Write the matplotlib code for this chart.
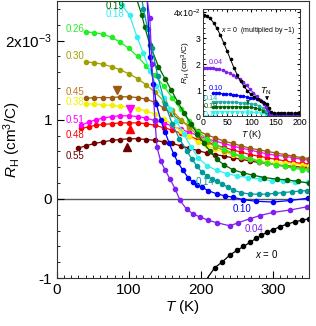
import matplotlib
matplotlib.use("Agg")
import matplotlib.pyplot as plt
from matplotlib.ticker import MultipleLocator, FixedLocator, FixedFormatter

plt.rcParams["font.family"] = ["Liberation Sans", "DejaVu Sans"]
plt.rcParams["mathtext.fontset"] = "custom"
plt.rcParams["mathtext.rm"] = "Liberation Sans"
plt.rcParams["mathtext.it"] = "Liberation Sans:italic"

# R_H values in units of 1e-3 cm^3/C, T in K (main panel)
T_055 = [29, 40, 52, 64, 76, 88, 100, 112, 124, 136, 148, 160, 172, 184, 196, 208,
         220, 232, 244, 256, 268, 280, 292, 304, 316, 328, 340, 350]
R_055 = [0.64, 0.67, 0.70, 0.72, 0.74, 0.75, 0.76, 0.76, 0.75, 0.74, 0.72, 0.70, 0.67,
         0.64, 0.61, 0.58, 0.56, 0.54, 0.52, 0.50, 0.48, 0.46, 0.45, 0.43, 0.42, 0.41,
         0.40, 0.40]
T_051 = [34, 44, 54, 64, 76, 88, 100, 112, 124, 136, 148, 160, 172, 184, 196, 208,
         220, 232, 244, 256, 268, 280, 292, 304, 316, 328, 340, 350]
R_051 = [0.93, 0.97, 1.00, 1.02, 1.04, 1.05, 1.05, 1.04, 1.02, 0.99, 0.96, 0.92, 0.88,
         0.84, 0.80, 0.76, 0.73, 0.70, 0.67, 0.64, 0.62, 0.59, 0.57, 0.55, 0.54, 0.52,
         0.50, 0.49]
T_048 = T_051
R_048 = [0.89, 0.91, 0.93, 0.94, 0.95, 0.96, 0.96, 0.96, 0.95, 0.93, 0.90, 0.87, 0.83,
         0.79, 0.75, 0.72, 0.68, 0.65, 0.62, 0.59, 0.56, 0.54, 0.52, 0.50, 0.48, 0.46,
         0.45, 0.44]
T_045 = [40, 52, 64, 76, 88, 100, 112, 124, 136, 148, 160, 172, 184, 196, 208, 220,
         232, 244, 256, 268, 280, 292, 304, 316, 328, 340, 350]
R_045 = [1.27, 1.28, 1.28, 1.28, 1.29, 1.29, 1.28, 1.26, 1.22, 1.15, 1.07, 0.99, 0.92,
         0.86, 0.81, 0.77, 0.73, 0.70, 0.67, 0.64, 0.62, 0.60, 0.58, 0.56, 0.54, 0.52,
         0.51]
T_038 = T_045
R_038 = [1.20, 1.20, 1.19, 1.18, 1.17, 1.16, 1.14, 1.11, 1.07, 1.01, 0.94, 0.86, 0.79,
         0.72, 0.67, 0.63, 0.59, 0.56, 0.53, 0.51, 0.49, 0.47, 0.46, 0.45, 0.44, 0.43,
         0.42]
T_030 = T_045
R_030 = [1.73, 1.72, 1.70, 1.67, 1.63, 1.58, 1.52, 1.44, 1.35, 1.24, 1.12, 1.00, 0.90,
         0.80, 0.72, 0.66, 0.61, 0.57, 0.53, 0.50, 0.47, 0.45, 0.43, 0.41, 0.40, 0.39,
         0.38]
T_026 = T_045
R_026 = [2.11, 2.10, 2.08, 2.04, 1.98, 1.90, 1.80, 1.68, 1.56, 1.43, 1.28, 1.13, 0.98,
         0.85, 0.76, 0.69, 0.63, 0.58, 0.54, 0.51, 0.48, 0.45, 0.43, 0.41, 0.39, 0.37,
         0.36]
T_019 = [108, 118, 122, 129, 141, 150, 159, 168, 177, 186, 195, 204, 213, 222, 232,
         244, 258, 272, 288, 305, 320, 335, 350]
R_019 = [2.6, 2.32, 2.17, 1.95, 1.67, 1.52, 1.37, 1.22, 1.08, 0.95, 0.82, 0.70, 0.60,
         0.50, 0.43, 0.37, 0.33, 0.30, 0.27, 0.25, 0.24, 0.22, 0.20]
T_018 = [78, 90, 101, 111, 120, 129, 138, 148, 157, 166, 176, 186, 196, 208, 222, 236,
         250, 265, 282, 298, 314, 330, 348]
R_018 = [2.6, 2.45, 2.32, 2.05, 1.84, 1.62, 1.43, 1.27, 1.14, 0.98, 0.82, 0.66, 0.52,
         0.42, 0.36, 0.32, 0.29, 0.27, 0.25, 0.23, 0.22, 0.21, 0.21]
T_014 = [117, 120, 126, 132, 140, 150, 160, 170, 180, 187, 194, 201, 208, 215, 222,
         229, 237, 245, 256, 268, 280, 291, 303, 314, 326, 338, 347]
R_014 = [2.6, 2.40, 2.15, 1.90, 1.55, 1.20, 0.95, 0.76, 0.61, 0.51, 0.42, 0.34, 0.29,
         0.25, 0.22, 0.19, 0.15, 0.11, 0.08, 0.06, 0.06, 0.06, 0.07, 0.08, 0.09, 0.10,
         0.105]
T_010 = [125, 129, 134, 138, 144, 150, 156, 162, 168, 175, 182, 189, 194, 201, 210,
         222, 233, 245, 259, 277, 300, 324, 349]
R_010 = [2.6, 1.79, 1.45, 1.20, 1.00, 0.85, 0.70, 0.57, 0.46, 0.36, 0.27, 0.21, 0.18,
         0.15, 0.105, 0.063, 0.04, 0.02, -0.01, -0.03, -0.04, -0.02, 0.01]
T_004 = [124, 129, 132, 136, 139, 144, 150, 157, 164, 171, 180, 189, 199, 210, 222,
         240, 252, 268, 282, 300, 324, 347]
R_004 = [2.6, 2.28, 1.70, 1.00, 0.65, 0.48, 0.37, 0.25, 0.13, -0.02, -0.13, -0.19,
         -0.23, -0.27, -0.30, -0.34, -0.30, -0.25, -0.21, -0.17, -0.14, -0.10]
T_000 = [205, 219, 229, 240, 250, 259, 268, 276, 284, 292, 300, 310, 319, 330, 340, 350]
R_000 = [-1.05, -0.87, -0.80, -0.71, -0.65, -0.60, -0.55, -0.50, -0.46, -0.42, -0.39,
         -0.35, -0.32, -0.29, -0.27, -0.25]

# triangle markers (T, R) on the flat curves
TRI_DOWN = [(83, 1.37, "#9A5A10"), (101, 1.13, "#FF00FF")]
TRI_UP = [(101, 0.88, "#FF0000"), (97, 0.66, "#700000")]

# inset: R_H in units of 1e-2 cm^3/C (x = 0 multiplied by -1)
Ti_000 = [2, 8, 15, 22, 29, 36, 43, 50, 57, 64, 71, 78, 85, 92, 99, 106, 113, 120, 127,
          132, 136, 140, 147, 154, 161, 168, 175, 182, 189, 196, 200]
Ri_000 = [3.90, 3.86, 3.76, 3.60, 3.38, 3.12, 2.82, 2.50, 2.18, 1.86, 1.58, 1.34, 1.14,
          0.97, 0.84, 0.73, 0.64, 0.58, 0.52, 0.48, 0.30, 0.14, 0.12, 0.12, 0.11, 0.11,
          0.11, 0.11, 0.11, 0.11, 0.11]
Ti_004 = [3, 8, 14, 20, 27, 34, 41, 48, 55, 62, 69, 76, 83, 90, 97, 104, 111, 118, 125,
          130, 134, 138, 145, 155, 165, 175, 185, 195, 200]
Ri_004 = [1.85, 1.86, 1.86, 1.85, 1.83, 1.80, 1.76, 1.71, 1.65, 1.58, 1.50, 1.41, 1.31,
          1.18, 1.04, 0.90, 0.76, 0.62, 0.47, 0.36, 0.22, 0.06, 0.04, 0.04, 0.04, 0.04,
          0.04, 0.04, 0.04]
Ti_010 = [20, 27, 34, 41, 48, 55, 62, 69, 76, 83, 90, 97, 104, 111, 118, 124, 129, 133,
          137, 141, 148, 158, 168, 178, 188, 198]
Ri_010 = [0.87, 0.87, 0.87, 0.86, 0.85, 0.84, 0.82, 0.80, 0.78, 0.76, 0.74, 0.71, 0.68,
          0.65, 0.61, 0.55, 0.45, 0.30, 0.12, 0.05, 0.04, 0.04, 0.03, 0.03, 0.03, 0.03]
Ti_014 = [20, 28, 36, 44, 52, 60, 68, 76, 84, 92, 100, 108, 116, 124, 130, 135, 140,
          150, 160, 170, 180, 190, 200]
Ri_014 = [0.55, 0.55, 0.55, 0.55, 0.54, 0.54, 0.53, 0.52, 0.51, 0.50, 0.48, 0.45, 0.40,
          0.31, 0.20, 0.10, 0.05, 0.04, 0.03, 0.03, 0.03, 0.03, 0.03]
Ti_019 = Ti_014
Ri_019 = [0.35, 0.36, 0.36, 0.36, 0.36, 0.36, 0.36, 0.36, 0.35, 0.35, 0.34, 0.32, 0.28,
          0.21, 0.14, 0.07, 0.03, 0.02, 0.02, 0.02, 0.02, 0.02, 0.02]
Ti_018 = [20, 30, 40, 50, 60, 70, 80, 90, 100, 110, 120, 130, 140, 150, 160, 170, 180,
          190, 200]
Ri_018 = [0.17, 0.17, 0.17, 0.17, 0.17, 0.17, 0.17, 0.16, 0.15, 0.14, 0.12, 0.08, 0.03,
          0.02, 0.02, 0.02, 0.02, 0.02, 0.02]

YTICKS = [-1, 0, 1, 2]
YTICKLABELS = ["-1", "0", "1", r"2x10$^{-3}$"]

main_series = [
    (T_055, R_055, "#700000", "0.55", (12.5, 0.54)),
    (T_048, R_048, "#FF0000", "0.48", (12.5, 0.81)),
    (T_051, R_051, "#FF00FF", "0.51", (12.5, 1.00)),
    (T_038, R_038, "#F2F200", "0.38", (12.5, 1.22)),
    (T_045, R_045, "#9A5A10", "0.45", (12.5, 1.35)),
    (T_030, R_030, "#A0A000", "0.30", (12.5, 1.81)),
    (T_026, R_026, "#22EE22", "0.26", (12.5, 2.15)),
    (T_018, R_018, "#33F0F0", "0.18", (68, 2.33)),
    (T_019, R_019, "#006600", "0.19", (68, 2.44)),
    (T_014, R_014, "#009A9A", "0.14", (192, 0.215)),
    (T_010, R_010, "#0000FF", "0.10", (244, -0.13)),
    (T_004, R_004, "#8020F0", "0.04", (261, -0.38)),
    (T_000, R_000, "black", None, None),
]
label_colors = {"0.45": "#C07820"}

fig = plt.figure(figsize=(3.16, 3.26), dpi=100)
ax = fig.add_axes([0.180, 0.147, 0.798, 0.850])

ax.axhline(0, color="#555555", lw=1.0, zorder=1)
for T, R, c, lab, pos in main_series:
    ax.plot(T, R, "-o", color=c, lw=0.9, ms=3.0, mec=c, zorder=2)
    if lab:
        ax.text(pos[0], pos[1], lab, color=label_colors.get(lab, c), fontsize=7,
                ha="left", va="center")
ax.text(275, -0.70, r"$x$ = 0", fontsize=7, ha="left", va="center")

for t, r, c in TRI_DOWN:
    ax.plot(t, r, "v", color=c, ms=5.5, zorder=3)
for t, r, c in TRI_UP:
    ax.plot(t, r, "^", color=c, ms=5.5, zorder=3)

ax.set_xlim(0, 350)
ax.set_ylim(-1, 2.5)
ax.xaxis.set_major_locator(MultipleLocator(100))
ax.xaxis.set_minor_locator(MultipleLocator(10))
ax.yaxis.set_major_locator(FixedLocator(YTICKS))
ax.yaxis.set_major_formatter(FixedFormatter(YTICKLABELS))
ax.yaxis.set_minor_locator(MultipleLocator(0.2))
ax.tick_params(which="both", direction="in", labelsize=11)
ax.tick_params(which="major", length=5)
ax.tick_params(which="minor", length=2.5)
ax.set_xlabel(r"$T$ (K)", fontsize=11, labelpad=1)
ax.set_ylabel(r"$R_{\rm H}$ (cm$^3$/C)", fontsize=11)
ax.yaxis.set_label_coords(-0.135, 0.5)
for s in ax.spines.values():
    s.set_color("#333333")

# inset
axi = fig.add_axes([0.642, 0.644, 0.307, 0.328])
axi.set_facecolor("white")
inset_series = [
    (Ti_018, Ri_018, "#33F0F0", "0.18", 0.05),
    (Ti_019, Ri_019, "#006600", "0.19", 0.36),
    (Ti_014, Ri_014, "#22AAAA", "0.14", 0.66),
    (Ti_010, Ri_010, "#0000FF", "0.10", 1.08),
    (Ti_004, Ri_004, "#8020F0", "0.04", 2.08),
    (Ti_000, Ri_000, "black", None, None),
]
for T, R, c, lab, y in inset_series:
    axi.plot(T, R, "-o", color=c, lw=0.7, ms=1.6, zorder=2)
    if lab:
        x0 = 1 if lab in ("0.18", "0.19", "0.14") else 12
        axi.text(x0, y, lab, color=c, fontsize=5.2, ha="left", va="center")
axi.text(38, 3.3, r"$x$ = 0  (multiplied by $-$1)", fontsize=5, ha="left", va="center")
axi.text(130, 0.95, r"$T_{\rm N}$", fontsize=6.5, ha="center", va="center")
axi.annotate("", xy=(133, 0.50), xytext=(132, 0.80),
             arrowprops=dict(arrowstyle="-|>", color="black", lw=0.6,
                             mutation_scale=5))
axi.annotate("", xy=(93, 0.36), xytext=(93, 0.58),
             arrowprops=dict(arrowstyle="-|>", color="#006600", lw=0.6,
                             mutation_scale=5))
axi.annotate("", xy=(93, 0.17), xytext=(93, 0.0),
             arrowprops=dict(arrowstyle="<|-|>", color="#33F0F0", lw=0.6,
                             mutation_scale=4))
axi.set_xlim(0, 200)
axi.set_ylim(0, 4.12)
axi.xaxis.set_major_locator(MultipleLocator(50))
axi.xaxis.set_minor_locator(MultipleLocator(10))
axi.yaxis.set_major_locator(FixedLocator([0, 1, 2, 3, 4]))
axi.yaxis.set_major_formatter(FixedFormatter(["0", "1", "2", "3", r"4x10$^{-2}$"]))
axi.yaxis.set_minor_locator(MultipleLocator(0.2))
axi.tick_params(which="both", direction="in", labelsize=6.3, pad=1.5,
                top=True, right=True)
axi.tick_params(which="major", length=2.5)
axi.tick_params(which="minor", length=1.2)
axi.set_xlabel(r"$T$ (K)", fontsize=6.3, labelpad=0.5)
axi.set_ylabel(r"$R_{\rm H}$ (cm$^3$/C)", fontsize=6)
axi.yaxis.set_label_coords(-0.10, 0.5)
for s in axi.spines.values():
    s.set_color("#333333")
    s.set_linewidth(0.7)

fig.savefig("out.png", dpi=100)
